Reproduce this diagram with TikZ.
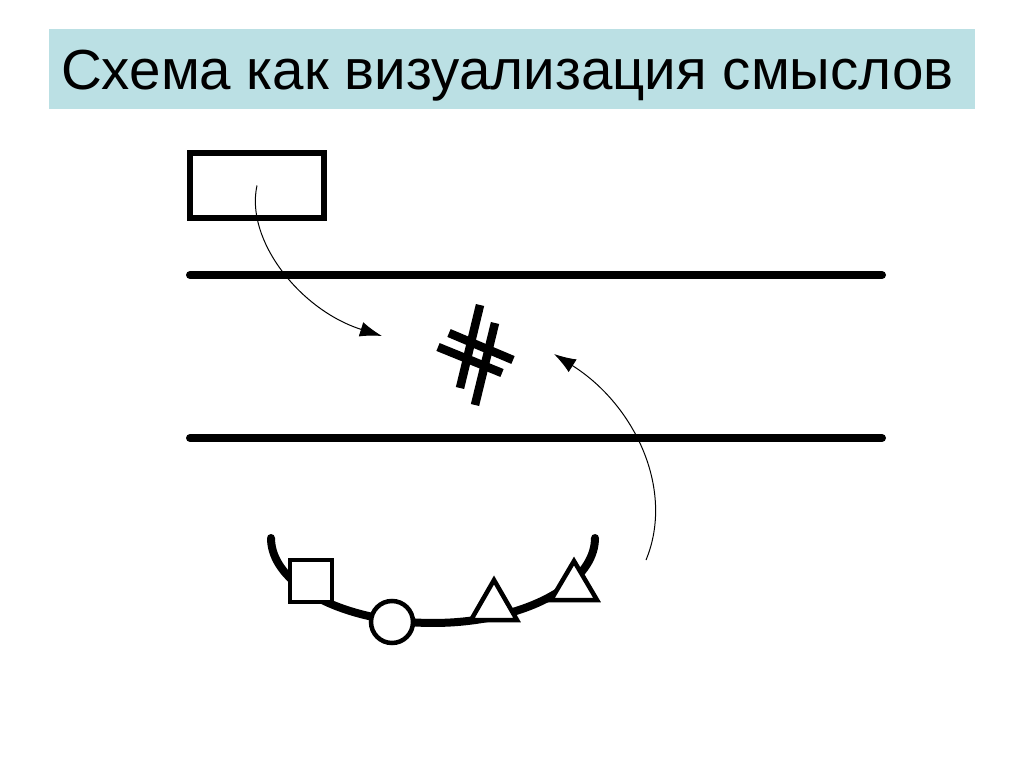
\documentclass[tikz,border=0pt]{standalone}
\usepackage{fontspec}
\setmainfont{Liberation Sans}
\usetikzlibrary{arrows.meta}
\definecolor{banner}{RGB}{187,224,228}
\tikzset{
  heavy/.style={line width=8pt, line cap=round},
  hashbar/.style={line width=8.5pt},
  shapebox/.style={draw, line width=4.5pt, fill=white, inner sep=0pt},
  link/.style={line width=1pt, -{Latex[length=22pt,width=15pt]}},
  titletext/.style={anchor=base west, inner sep=0pt, font=\fontsize{56.5}{60}\selectfont},
}
\begin{document}
\begin{tikzpicture}[x=1pt,y=-1pt]
\useasboundingbox (0,0) rectangle (1024,767);
\fill[white] (0,0) rectangle (1024,767);
% title banner
\fill[banner] (49,29) rectangle (975,109);
\node[titletext] (title) at (61,90) {Схема как визуализация смыслов};
% box
\node[draw, line width=6pt, minimum width=134pt, minimum height=65pt, inner sep=0pt] (box) at (257,185.5) {};
% lines
\coordinate (l1a) at (190,275); \coordinate (l1b) at (882,275);
\coordinate (l2a) at (190,438); \coordinate (l2b) at (882,438);
\draw[heavy] (l1a) -- (l1b);
\draw[heavy] (l2a) -- (l2b);
% hash
\coordinate (h1a) at (480,305); \coordinate (h1b) at (460,388);
\coordinate (h2a) at (495,323); \coordinate (h2b) at (475,405);
\coordinate (h3a) at (449,333); \coordinate (h3b) at (513,360);
\coordinate (h4a) at (438,347); \coordinate (h4b) at (502,373);
\draw[hashbar] (h1a) -- (h1b);
\draw[hashbar] (h2a) -- (h2b);
\draw[hashbar] (h3a) -- (h3b);
\draw[hashbar] (h4a) -- (h4b);
% arc
\draw[line width=8pt, line cap=round] plot[domain=180:360, samples=80] ({433+162*cos(\x)}, {538-85*sin(\x)});
% shapes on arc
\node[shapebox, minimum size=42pt] (sq) at (311,581) {};
\node[shapebox, circle, minimum size=42pt] (ci) at (392,622) {};
\coordinate (t1) at (494,600);
\draw[line width=4.5pt, fill=white, line join=miter] (494,580) -- (517,620) -- (471,620) -- cycle;
\coordinate (t2) at (575,580);
\draw[line width=4.5pt, fill=white, line join=miter] (574,561) -- (597,600) -- (551,600) -- cycle;
% arrows
\coordinate (a1end) at (382,336);
\coordinate (a2start) at (646,560);
\coordinate (a2end) at (554,354);
\draw[link] (box.center) .. controls (245,240) and (300,310) .. (a1end);
\draw[link] (a2start) .. controls (675,490) and (635,405) .. (a2end);
\end{tikzpicture}
\end{document}
